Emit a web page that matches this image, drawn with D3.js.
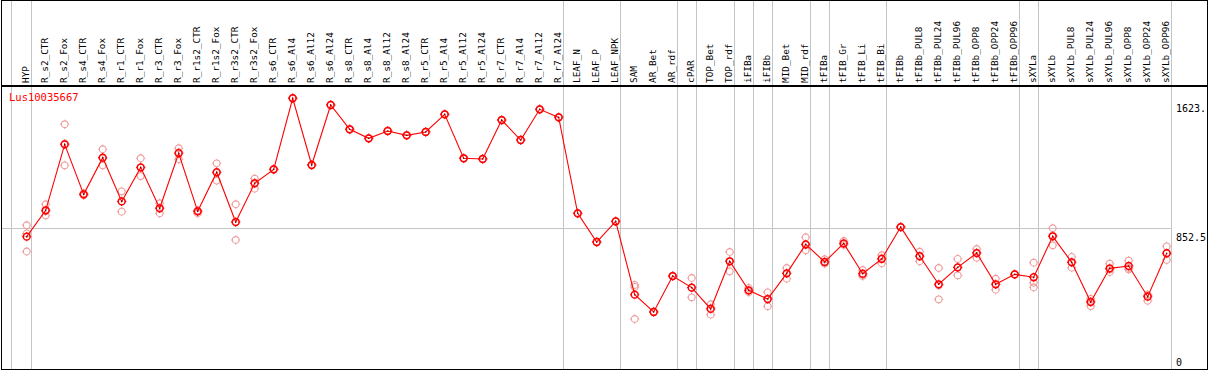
<!DOCTYPE html>
<html>
<head>
<meta charset="utf-8">
<script src="https://cdn.jsdelivr.net/npm/d3@7"></script>
<style>
  body { margin: 0; background: #fff; }
  text { font-family: "DejaVu Sans Mono", monospace; }
</style>
</head>
<body>
<div id="chart"></div>
<script>
// categories along x
let categories = ["HYP", "R_s2_CTR", "R_s2_Fox", "R_s4_CTR", "R_s4_Fox", "R_r1_CTR", "R_r1_Fox",
    "R_r3_CTR", "R_r3_Fox", "R_r1s2_CTR", "R_r1s2_Fox", "R_r3s2_CTR", "R_r3s2_Fox",
    "R_s6_CTR", "R_s6_Al4", "R_s6_Al12", "R_s6_Al24", "R_s8_CTR", "R_s8_Al4", "R_s8_Al12", "R_s8_Al24",
    "R_r5_CTR", "R_r5_Al4", "R_r5_Al12", "R_r5_Al24", "R_r7_CTR", "R_r7_Al4", "R_r7_Al12", "R_r7_Al24",
    "LEAF_N", "LEAF_P", "LEAF_NPK", "SAM", "AR_Bet", "AR_rdf", "cPAR", "TOP_Bet", "TOP_rdf",
    "iFIBa", "iFIBb", "MID_Bet", "MID_rdf", "tFIBa", "tFIB_Gr", "tFIB_Li", "tFIB_Bi",
    "tFIBb", "tFIBb_PUL8", "tFIBb_PUL24", "tFIBb_PUL96", "tFIBb_OPP8", "tFIBb_OPP24", "tFIBb_OPP96",
    "sXYLa", "sXYLb", "sXYLb_PUL8", "sXYLb_PUL24", "sXYLb_PUL96", "sXYLb_OPP8", "sXYLb_OPP24", "sXYLb_OPP96"];

// mean expression per category
let means = [801, 958, 1351, 1053, 1272, 1011, 1214, 970, 1298, 952, 1185, 888, 1119,
    1202, 1626, 1228, 1586, 1441, 1387, 1431, 1405, 1425, 1530, 1268, 1264, 1496, 1377, 1560, 1512,
    940, 769, 892, 455, 352, 566, 497, 370, 654, 481, 429, 582, 755, 650, 761, 580, 668,
    858, 684, 517, 618, 703, 517, 576, 559, 803, 648, 411, 612, 626, 443, 702];

// replicate values per category
let replicates = [
    [869, 820, 712], [994, 952, 928], [1471, 1356, 1226], [1060, 1050, 1048], [1322, 1268, 1226],
    [1071, 1011, 950], [1268, 1212, 1162], [1000, 970, 940], [1328, 1304, 1262], [958, 952, 940],
    [1238, 1182, 1135], [994, 888, 781], [1147, 1122, 1087], [1205, 1200, 1201], [1628, 1624, 1626],
    [1230, 1226, 1228], [1588, 1584, 1586], [1443, 1439, 1441], [1389, 1385, 1387], [1433, 1429, 1431],
    [1407, 1403, 1405], [1427, 1423, 1425], [1532, 1528, 1530], [1270, 1266, 1268], [1266, 1262, 1264],
    [1498, 1494, 1496], [1379, 1375, 1377], [1562, 1558, 1560], [1514, 1510, 1512], [942, 938, 940],
    [771, 767, 769], [894, 890, 892], [513, 501, 310], [355, 350, 351], [568, 565, 566],
    [554, 497, 439], [398, 375, 336], [709, 654, 594], [495, 478, 470], [469, 430, 386],
    [614, 582, 550], [797, 750, 720], [666, 646, 640], [775, 758, 752], [602, 572, 566],
    [690, 672, 642], [860, 858, 856], [711, 686, 654], [614, 510, 427], [668, 616, 570],
    [727, 705, 675], [550, 516, 485], [578, 576, 574], [646, 527, 499], [851, 808, 749],
    [680, 648, 616], [430, 415, 387], [640, 606, 590], [658, 614, 606], [455, 450, 419],
    [743, 702, 662]];

// last category of each block (a gray separator follows it)
let groupEnds = ["HYP", "R_r7_Al24", "LEAF_NPK", "AR_rdf", "cPAR", "TOP_rdf", "iFIBa", "iFIBb",
    "MID_rdf", "tFIBa", "tFIB_Bi", "tFIBb_OPP96", "sXYLa", "sXYLb_OPP96"];

let yTicks = [0, 852.5, 1623];
let yTickLabels = ["0", "852.5", "1623."];
let geneName = "Lus10035667";

let w = 1209, h = 370;

let svg = d3.select("#chart").append("svg")
    .attr("width", w)
    .attr("height", h);

const x = d3.scalePoint().domain(categories).range([26.7, 1166.7]);
const y = d3.scaleLinear().domain([0, 1705]).range([371, 85]);
let step = x.step();

// gray separators
let sep = svg.append("g").attr("shape-rendering", "crispEdges");
sep.append("line")
    .attr("x1", x(categories[0]) - step + 3.5).attr("x2", x(categories[0]) - step + 3.5)
    .attr("y1", 0).attr("y2", h)
    .style("stroke", "#c4c4c4");
sep.selectAll(".vsep")
    .data(groupEnds)
    .enter().append("line")
    .attr("class", "vsep")
    .attr("x1", function(d) { return Math.round(x(d) + 4) + 0.5; })
    .attr("x2", function(d) { return Math.round(x(d) + 4) + 0.5; })
    .attr("y1", 0).attr("y2", h)
    .style("stroke", "#c4c4c4");

// mid gridline
sep.append("line")
    .attr("x1", 1).attr("x2", Math.round(x(categories[categories.length - 1]) + 4))
    .attr("y1", Math.round(y(852.5)) + 0.5).attr("y2", Math.round(y(852.5)) + 0.5)
    .style("stroke", "#c4c4c4");

// rotated category labels
svg.append("g").selectAll(".cat")
    .data(categories)
    .enter().append("text")
    .attr("class", "cat")
    .attr("transform", function(d) { return "translate(" + (x(d) + 2.5) + ",83)rotate(-90)"; })
    .style("font-size", "9.4px")
    .style("fill", "#000")
    .text(function(d) { return d; });

// y tick labels
svg.append("g")
    .selectAll(".ytick")
    .data(yTicks)
    .enter().append("text")
    .attr("class", "ytick")
    .attr("x", 1176)
    .attr("y", function(d, i) { return i === 0 ? 366 : y(d) + 13; })
    .style("font-size", "10px")
    .text(function(d, i) { return yTickLabels[i]; });

svg.append("text")
    .attr("x", 9)
    .attr("y", 101)
    .style("font-size", "10.5px")
    .style("fill", "#ff0000")
    .text(geneName);

// replicate markers
let repPts = [];
replicates.forEach(function(r, i) {
    r.forEach(function(v) { repPts.push({cat: categories[i], v: v}); });
});

function marker(g, color, width) {
    g.append("circle")
        .attr("r", 3.4)
        .style("fill", "none")
        .style("stroke", color)
        .style("stroke-width", width);
    g.append("path")
        .attr("d", "M0,-4.6V-3.6M0,3.6V4.6M-4.6,0H-3.6M3.6,0H4.6")
        .style("stroke", color)
        .style("stroke-width", 1);
}

svg.append("g").selectAll(".rep")
    .data(repPts)
    .enter().append("g")
    .attr("class", "rep")
    .attr("transform", function(d) { return "translate(" + x(d.cat) + "," + y(d.v) + ")"; })
    .each(function() { marker(d3.select(this), "#ef9a9a", 1.1); });

// mean line
let line = d3.line()
    .x(function(d, i) { return x(categories[i]); })
    .y(function(d) { return y(d); });

svg.append("path")
    .datum(means)
    .attr("d", line)
    .style("fill", "none")
    .style("stroke", "#ff0000")
    .style("stroke-width", 1.1);

svg.append("g").selectAll(".mean")
    .data(means)
    .enter().append("g")
    .attr("class", "mean")
    .attr("transform", function(d, i) { return "translate(" + x(categories[i]) + "," + y(d) + ")"; })
    .each(function() {
        marker(d3.select(this), "#ff0000", 1.5);
        d3.select(this).append("circle").attr("r", 0.8).style("fill", "#800000");
    });

// frame
let frame = svg.append("g").attr("shape-rendering", "crispEdges")
    .style("stroke", "#000").style("fill", "none");
frame.append("rect").attr("x", 1.5).attr("y", 0.5).attr("width", 1206).attr("height", 369);
frame.append("line").attr("x1", 1).attr("x2", 1208).attr("y1", 85.5).attr("y2", 85.5)
    .style("stroke-width", 2);
</script>
</body>
</html>
